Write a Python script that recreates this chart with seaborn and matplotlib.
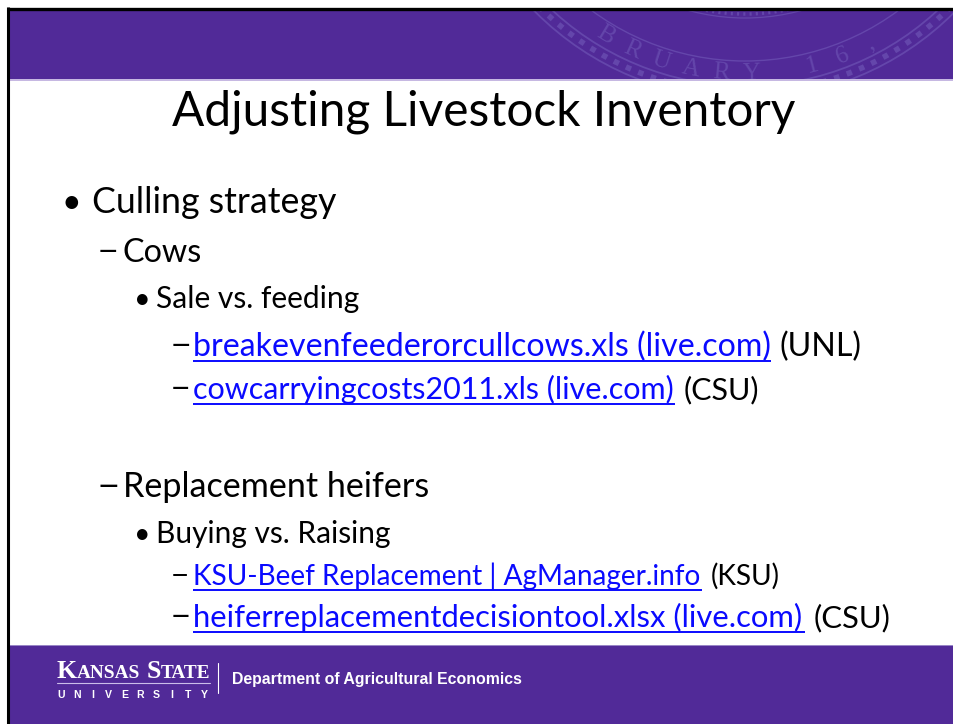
import matplotlib
matplotlib.use('Agg')
import matplotlib.pyplot as plt
import seaborn as sns
import numpy as np
from matplotlib.patches import Rectangle, Circle

# ---------------- content ----------------
title_text = 'Adjusting Livestock Inventory'
item_texts = ['Culling strategy', 'Cows', 'Sale vs. feeding',
              'breakevenfeederorcullcows.xls (live.com)',
              'cowcarryingcosts2011.xls (live.com)',
              'Replacement heifers', 'Buying vs. Raising',
              'KSU-Beef Replacement | AgManager.info',
              'heiferreplacementdecisiontool.xlsx (live.com)']
item_levels = [1, 2, 3, 4, 4, 2, 3, 4, 4]
item_suffixes = ['', '', '', '(UNL)', '(CSU)', '', '', '(KSU)', '(CSU)']
item_links = [False, False, False, True, True, False, False, True, True]
footer_dept = 'Department of Agricultural Economics'
logo_words = [('K', 'ANSAS'), ('S', 'TATE')]
logo_sub = 'UNIVERSITY'
seal_text = 'FEBRUARY 16, 1863'

# ---------------- layout / style ----------------
W, H = 954, 724
PURPLE = '#512a98'
SEAL = '#6446ab'
LINK = '#0a0aff'
item_baselines = [213, 262, 308, 356, 399, 497, 543, 585, 627]
item_right = [338, 202, 360, 771, 675, 431, 391, 702, 805]
level_marker = {1: '\u2022', 2: '\u2014', 3: '\u2022', 4: '\u2014'}
level_marker_x = {1: 71, 2: 99, 3: 142, 4: 172}
level_text_x = {1: 92, 2: 123, 3: 156, 4: 193}

sns.set_theme(style='white')
plt.rcParams['font.family'] = ['Lato', 'DejaVu Sans']

fig = plt.figure(figsize=(W / 100, H / 100), dpi=100)
ax = fig.add_axes([0, 0, 1, 1])
ax.set_xlim(0, W)
ax.set_ylim(H, 0)
ax.axis('off')
fig.patch.set_facecolor('white')
renderer = fig.canvas.get_renderer()


def width(t):
    bb = t.get_window_extent(renderer=renderer)
    return bb.width


def fit_text(x, y, s, x_right, base=20, **kw):
    t = ax.text(x, y, s, fontsize=base, va='baseline', ha='left', **kw)
    w = width(t)
    fs = base * (x_right - x) / w
    t.set_fontsize(fs)
    return t, fs


# ---------------- header ----------------
header = Rectangle((8, 9), W, 71, facecolor=PURPLE, edgecolor='none', zorder=1)
ax.add_patch(header)
cx, cy = 745, -197
for r, lw in [(296, 1.3), (283, 1.3), (258, 1.0), (215, 0.9), (207, 1.0)]:
    c = Circle((cx, cy), r, fill=False, edgecolor=SEAL, lw=lw, zorder=2)
    ax.add_patch(c)
    c.set_clip_path(header)
rope = Circle((cx, cy), 289.5, fill=False, edgecolor=SEAL, lw=4, ls=(0, (1.0, 1.4)), zorder=2)
ax.add_patch(rope)
rope.set_clip_path(header)
dots = Circle((cx, cy), 211, fill=False, edgecolor=SEAL, lw=2.5, ls=(0, (0.6, 1.2)), zorder=2)
ax.add_patch(dots)
dots.set_clip_path(header)
start_deg, step_deg = 134.0, 6.5
for i, ch in enumerate(seal_text):
    th = start_deg - i * step_deg
    x = cx + 271 * np.cos(np.radians(th))
    y = cy + 271 * np.sin(np.radians(th))
    if y < 24:
        continue
    ax.text(x, y, ch, fontsize=18, family='Liberation Serif', color=SEAL,
            ha='center', va='center', rotation=90 - th, zorder=2)

ax.add_patch(Rectangle((8, 79), W, 2, facecolor='#c6b8e2', edgecolor='none', zorder=3))

# borders
ax.plot([7, W], [8.5, 8.5], color='black', lw=2.4, zorder=5, solid_capstyle='butt')
ax.plot([8, 8], [7, H], color='black', lw=2.2, zorder=5, solid_capstyle='butt')

# ---------------- title ----------------
fit_text(172, 125, title_text, 797, color='black', zorder=4)

# ---------------- body ----------------
for s, lev, suf, link, yb, xr in zip(item_texts, item_levels, item_suffixes,
                                      item_links, item_baselines, item_right):
    tx = level_text_x[lev]
    t, fs = fit_text(tx, yb, s, xr, color=LINK if link else 'black', zorder=4)
    mk = level_marker[lev]
    if mk == '\u2022':
        ax.text(level_marker_x[lev], yb, mk, fontsize=fs * 0.95, ha='center',
                va='baseline', color='black', zorder=4)
    else:
        ax.text(level_marker_x[lev], yb - 0.13 * fs * 100 / 72, mk, fontsize=fs * 0.72,
                ha='left', va='baseline', color='black', fontweight='bold', zorder=4)
    if link:
        ax.plot([tx, xr], [yb + 5, yb + 5], color=LINK, lw=1.4, zorder=4,
                solid_capstyle='butt')
    if suf:
        ax.text(xr + 9, yb, suf, fontsize=fs, ha='left', va='baseline',
                color='black', zorder=4)

# ---------------- footer ----------------
footer = Rectangle((8, 645), W, H - 645, facecolor=PURPLE, edgecolor='none', zorder=1)
ax.add_patch(footer)
ax.add_patch(Rectangle((8, 644.5), W, 1.5, facecolor='#9886c6', edgecolor='none', zorder=2))

# logo: small-caps serif
big, small = 16.0, 12.0
items = []
x = 0.0
for wi, (cap, rest) in enumerate(logo_words):
    if wi > 0:
        x += 0.3 * small * 100 / 72
    t1 = ax.text(x, 678, cap, fontsize=big, family='Liberation Serif', fontweight='bold',
                 color='white', va='baseline', ha='left', zorder=4)
    items.append(t1)
    x += width(t1)
    t2 = ax.text(x, 678, rest, fontsize=small, family='Liberation Serif', fontweight='bold',
                 color='white', va='baseline', ha='left', zorder=4)
    items.append(t2)
    x += width(t2)
scale = (210 - 57) / x
for t in items:
    px, py = t.get_position()
    t.set_position((57 + px * scale, py))
    t.set_fontsize(t.get_fontsize() * scale)
ax.plot([57, 210], [682.5, 682.5], color='#cbbde9', lw=0.8, zorder=4)
xs = np.linspace(61, 204, len(logo_sub))
for xi, ch in zip(xs, logo_sub):
    ax.text(xi, 698, ch, fontsize=7.6, family='Liberation Sans', fontweight='bold',
            color='white', ha='center', va='baseline', zorder=4)
ax.plot([218, 218], [663, 693], color='white', lw=0.8, zorder=4)
fit_text(232, 684, footer_dept, 521, color='white', family='Liberation Sans',
         fontweight='bold', zorder=4)

fig.savefig('out.png', dpi=100, facecolor='white')
